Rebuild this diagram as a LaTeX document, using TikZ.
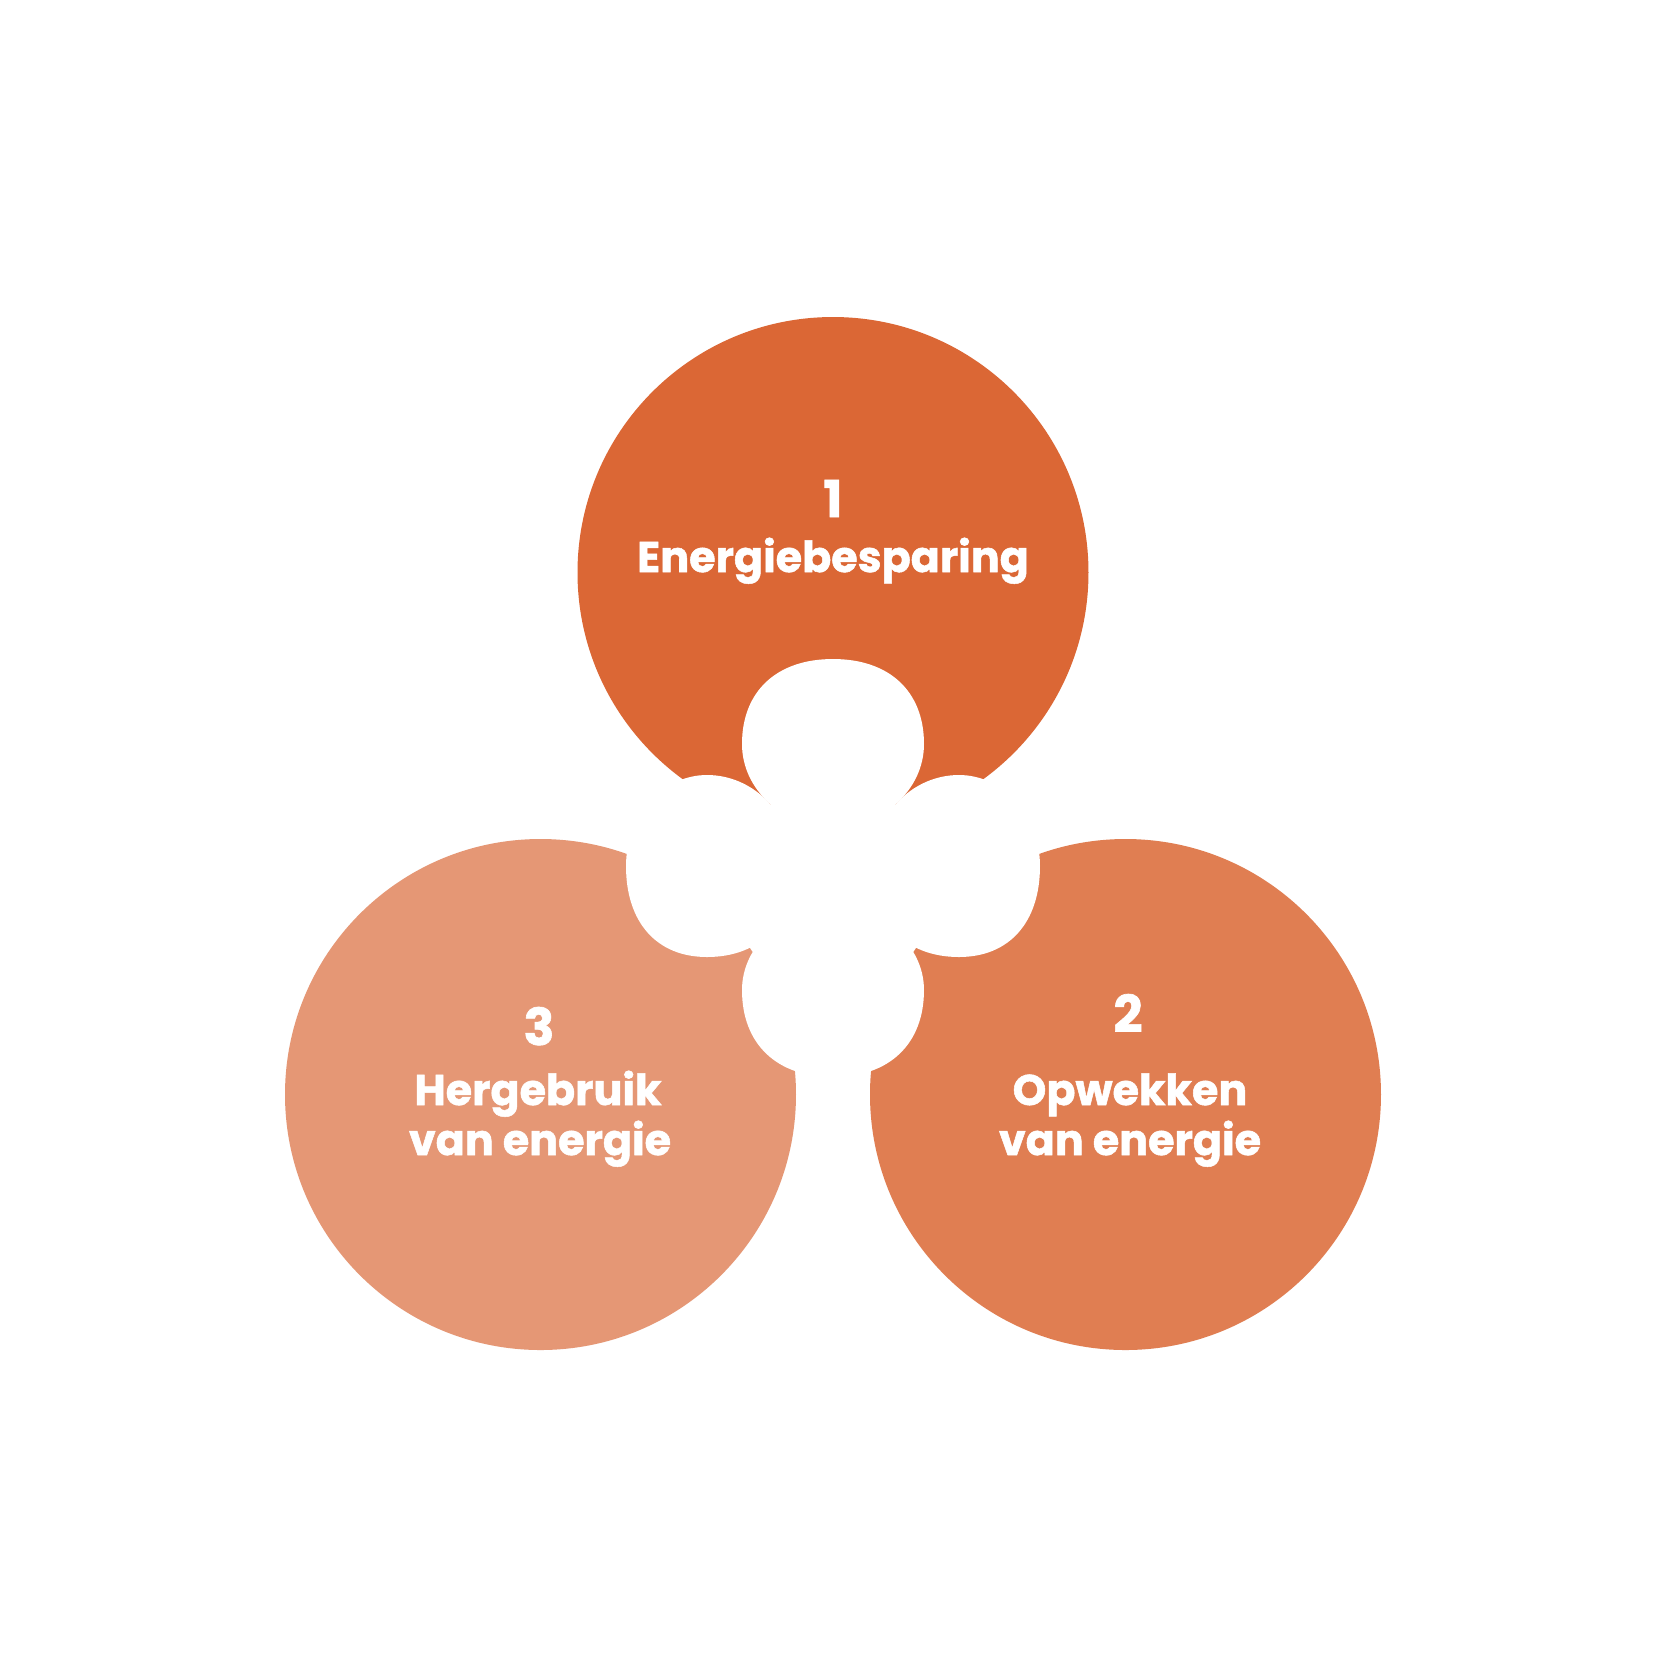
\documentclass[tikz,border=0pt]{standalone}
\usepackage{fontspec}
\setmainfont{Poppins}[BoldFeatures={FakeBold=1.2}]
\definecolor{savecol}{HTML}{DB6735}
\definecolor{makecol}{HTML}{E07E52}
\definecolor{reusecol}{HTML}{E59775}
\tikzset{
  lobe/.style={fill=white},
  numtext/.style={text=white, inner sep=0pt, anchor=base, font=\bfseries\fontsize{14.5}{17}\selectfont},
  labtext/.style={text=white, inner sep=0pt, anchor=base, font=\bfseries\fontsize{12.2}{14}\selectfont}
}
% lobe: centre x, centre y, right, up, left, down, roundness upper half, roundness lower half
\newcommand{\lobe}[8]{\fill[lobe, shift={(#1,#2)}] (#3,0) .. controls (#3,#7*#4) and (#7*#3,#4) .. (0,#4) .. controls (-#7*#5,#4) and (-#5,#7*#4) .. (-#5,0) .. controls (-#5,-#8*#6) and (-#8*#5,-#6) .. (0,-#6) .. controls (#8*#3,-#6) and (#3,-#8*#6) .. (#3,0) -- cycle;}
\begin{document}
\begin{tikzpicture}
	\fill[white] (0,0) rectangle (16.67,-16.67);
	\useasboundingbox (0,0) rectangle (16.67,-16.67);
	
	\coordinate (save) at (8.33,-5.725);
	\coordinate (make) at (11.255,-10.945);
	\coordinate (reuse) at (5.405,-10.945);
	
	\fill[savecol] (save) circle (2.555);
	\fill[makecol] (make) circle (2.555);
	\fill[reusecol] (reuse) circle (2.555);
	
	\lobe{8.33}{-7.44}{0.91}{0.85}{0.91}{0.83}{0.62}{0.55}
	\lobe{7.07}{-8.66}{0.865}{0.91}{0.81}{0.91}{0.55}{0.62}
	\lobe{9.59}{-8.66}{0.81}{0.91}{0.865}{0.91}{0.55}{0.62}
	\lobe{8.33}{-9.90}{0.91}{0.81}{0.91}{0.87}{0.55}{0.62}
	\fill[lobe] (8.33,-7.44) -- (7.07,-8.66) -- (8.33,-9.90) -- (9.59,-8.66) -- cycle;
	
	\node[numtext] (savenum) at (8.33,-5.17) {1};
	\node[labtext] (savelab) at (8.33,-5.72) {Energiebesparing};
	
	\node[numtext] (makenum) at (11.28,-10.32) {2};
	\node[labtext] (makelab) at (11.30,-11.05) {Opwekken};
	\node[labtext] (makelab2) at (11.30,-11.55) {van energie};
	
	\node[numtext] (reusenum) at (5.39,-10.45) {3};
	\node[labtext] (reuselab) at (5.38,-11.05) {Hergebruik};
	\node[labtext] (reuselab2) at (5.40,-11.55) {van energie};
\end{tikzpicture}
\end{document}
